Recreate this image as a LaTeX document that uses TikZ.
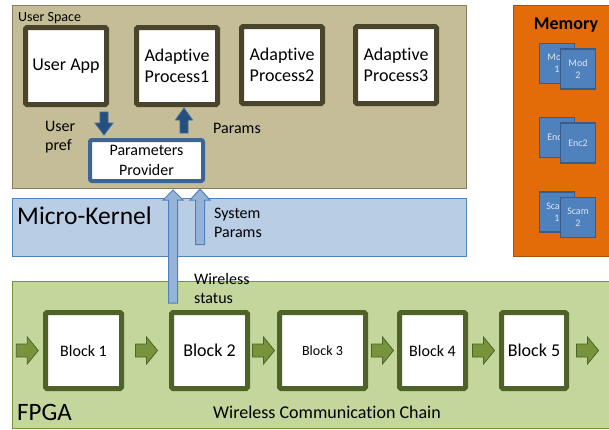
\documentclass[tikz,border=0pt]{standalone}
\usepackage{fontspec}
\setmainfont{Carlito}[Ligatures=CommonOff]
\usetikzlibrary{calc}

\definecolor{usfill}{HTML}{C4BD97}
\definecolor{usline}{HTML}{857D5C}
\definecolor{procline}{HTML}{4A452A}
\definecolor{mkfill}{HTML}{B9CDE5}
\definecolor{mkline}{HTML}{4F81BD}
\definecolor{fpfill}{HTML}{C3D69B}
\definecolor{fpline}{HTML}{77933C}
\definecolor{blkline}{HTML}{4F6228}
\definecolor{garfill}{HTML}{77933C}
\definecolor{memfill}{HTML}{E36C09}
\definecolor{memline}{HTML}{A5520B}
\definecolor{sqfill}{HTML}{4F81BD}
\definecolor{sqline}{HTML}{385D8A}
\definecolor{sqtext}{HTML}{DCE6F2}
\definecolor{ppline}{HTML}{3C6596}
\definecolor{darrfill}{HTML}{24507F}
\definecolor{darrline}{HTML}{41699A}
\definecolor{larrfill}{HTML}{95B3D7}

% block arrow: style, tail, tip, shaft half width, head half width, head length
\newcommand{\blockarrow}[6]{%
  \coordinate (bah) at ($(#3)!#6!(#2)$);
  \draw[#1] ($(#2)!#4!90:(#3)$) -- ($(bah)!#4!90:(#3)$) -- ($(bah)!#5!90:(#3)$) -- (#3)
    -- ($(bah)!#5!-90:(#3)$) -- ($(bah)!#4!-90:(#3)$) -- ($(#2)!#4!-90:(#3)$) -- cycle;}

\begin{document}
\begin{tikzpicture}[x=1pt,y=-1pt,
  region/.style={draw, line width=1pt, inner sep=0pt},
  procbox/.style={draw=procline, line width=5pt, fill=white, rounded corners=1.5pt,
    minimum width=81pt, minimum height=77pt, inner sep=0pt, align=center,
    font=\fontsize{18}{21}\selectfont},
  blkbox/.style={draw=blkline, line width=5pt, fill=white, rounded corners=1.5pt,
    minimum height=76pt, inner sep=0pt},
  memsq/.style={draw=sqline, fill=sqfill, line width=1.2pt, minimum width=35pt,
    minimum height=40pt, inner sep=0pt, text=sqtext, align=center,
    font=\fontsize{10}{12}\selectfont},
  lbl/.style={inner sep=0pt, align=left, font=\fontsize{16}{19}\selectfont},
  garr/.style={fill=garfill, draw=blkline, line width=0.8pt},
  darr/.style={fill=darrfill, draw=darrline, line width=0.8pt},
  larr/.style={fill=larrfill, draw=mkline, line width=1pt}]

\useasboundingbox (0,0) rectangle (609,429);

%regions
\node[region, fill=usfill, draw=usline, minimum width=454pt, minimum height=183pt] (us) at (239,96.5) {};
\node[region, fill=mkfill, draw=mkline, minimum width=454pt, minimum height=58pt] (mk) at (239,227) {};
\node[region, fill=fpfill, draw=fpline, minimum width=600pt, minimum height=147pt] (fpga) at (312,354.5) {};
\node[region, fill=memfill, draw=memline, minimum width=97pt, minimum height=251pt] (mem) at (561.5,130.5) {};
\node[anchor=base west, inner sep=0pt, font=\fontsize{14}{16}\selectfont] (uslbl) at (18,21) {User Space};
\node[anchor=base west, inner sep=0pt, font=\fontsize{25.5}{30}\selectfont] (mklbl) at (17,224) {Micro-Kernel};
\node[anchor=base west, inner sep=0pt, font=\fontsize{25}{30}\selectfont] (fplbl) at (17,420) {FPGA};
\node[anchor=base west, inner sep=0pt, font=\fontsize{18}{21}\selectfont] (chainlbl) at (213,418) {Wireless Communication Chain};
\node[anchor=base, inner sep=0pt, font=\fontsize{18}{21}\selectfont\bfseries] (memlbl) at (566,29) {Memory};
%fin

%user space
\node[procbox] (app) at (66,66) {User App};
\node[procbox] (ap1) at (177,66) {Adaptive\\Process1};
\node[procbox] (ap2) at (282,65) {Adaptive\\Process2};
\node[procbox] (ap3) at (396,65) {Adaptive\\Process3};
\node[draw=ppline, line width=4pt, fill=white, rounded corners=2pt, minimum width=113pt,
  minimum height=41pt, inner sep=0pt, align=center, font=\fontsize{16}{20}\selectfont]
  (pp) at (146.5,160.5) {Parameters\\Provider};
\node[lbl, anchor=north west] (preflbl) at (45,121) {User\\pref};
\node[lbl, anchor=base west] (paramslbl) at (213,133) {Params};
%fin

%memory
\node[memsq] (mod1) at (557,63.5) {Mod\\1};
\node[memsq] (mod2) at ($(mod1)+(21,5.5)$) {Mod\\2};
\node[memsq] (enc1) at (557,137.5) {Enc1};
\node[memsq] (enc2) at ($(enc1)+(21,5.5)$) {Enc2};
\node[memsq] (scam1) at (557,212) {Scam\\1};
\node[memsq] (scam2) at ($(scam1)+(21,5.5)$) {Scam\\2};
%fin

%chain
\node[blkbox, minimum width=76pt, font=\fontsize{16}{19}\selectfont] (b1) at (83.5,350.5) {Block 1};
\node[blkbox, minimum width=76pt, font=\fontsize{18}{21}\selectfont] (b2) at (209.5,350.5) {Block 2};
\node[blkbox, minimum width=86pt, font=\fontsize{14}{17}\selectfont] (b3) at (322.5,350.5) {Block 3};
\node[blkbox, minimum width=66pt, font=\fontsize{16}{19}\selectfont] (b4) at (432.5,350.5) {Block 4};
\node[blkbox, minimum width=65pt, font=\fontsize{18}{21}\selectfont] (b5) at (534,350.5) {Block 5};
\coordinate (chainin) at (fpga.west |- b1.west);
\coordinate (chainout) at ($(b5.east)+(37,0)$);
\foreach \a/\b in {chainin/b1.west, b1.east/b2.west, b2.east/b3.west,
                   b3.east/b4.west, b4.east/b5.west, b5.east/chainout}{
  \coordinate (gm) at ($(\a)!0.5!(\b)$);
  \coordinate (gt) at ($(gm)+(-11,0)$);
  \coordinate (gh) at ($(gm)+(11,0)$);
  \blockarrow{garr}{gt}{gh}{6.5pt}{13.5pt}{11pt}
}
%fin

%arrows
\coordinate (pref-tail) at ($(app.south)+(38,5)$);
\coordinate (pref-tip) at ($(pp.north)+(-42.5,-3)$);
\blockarrow{darr}{pref-tail}{pref-tip}{4pt}{9pt}{12pt}
\coordinate (par-tail) at ($(pp.north)+(37.5,-5)$);
\coordinate (par-tip) at ($(ap1.south)+(7,1)$);
\blockarrow{darr}{par-tail}{par-tip}{4pt}{8.5pt}{12pt}
\coordinate (ws-tail) at ($(b2.north)+(-36.5,-7)$);
\coordinate (ws-tip) at ($(pp.south)+(26.5,7)$);
\blockarrow{larr}{ws-tail}{ws-tip}{4.5pt}{10pt}{10pt}
\coordinate (sp-tail) at ($(mk.south)+(-39,-12)$);
\coordinate (sp-tip) at ($(pp.south)+(53.5,6)$);
\blockarrow{larr}{sp-tail}{sp-tip}{4.5pt}{10pt}{11pt}
\node[lbl, anchor=north west] (syslbl) at (214,208) {System\\Params};
\node[lbl, anchor=north west] (wslbl) at (194,273) {Wireless\\status};
%fin
\end{tikzpicture}
\end{document}
